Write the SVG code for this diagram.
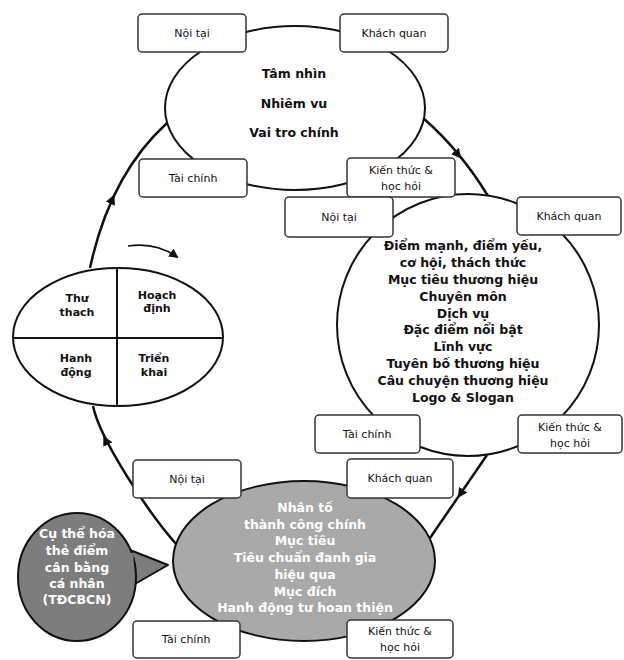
<svg xmlns="http://www.w3.org/2000/svg" width="624" height="660" viewBox="0 0 624 660">
<style>
.bg{fill:#fff}
.shape{fill:#fff;stroke:#111;stroke-width:2}
.box{fill:#fff;stroke:#333;stroke-width:1.5}
.lbl{font-family:"DejaVu Sans",Verdana,sans-serif;font-size:11px;fill:#111;text-anchor:middle}
.q{font-family:"DejaVu Sans",Verdana,sans-serif;font-size:11px;font-weight:bold;fill:#111;text-anchor:middle}
.txt{font-family:"DejaVu Sans",Verdana,sans-serif;font-size:12.5px;font-weight:bold;fill:#111;text-anchor:middle}
.wtxt{font-family:"DejaVu Sans",Verdana,sans-serif;font-size:12.5px;font-weight:bold;fill:#fff;text-anchor:middle}
.conn{fill:none;stroke:#111;stroke-width:2.5}
.thin{fill:none;stroke:#111;stroke-width:1.6}
</style>
<defs>
<marker id="ah" viewBox="0 0 10 10" refX="5" refY="5" markerWidth="4" markerHeight="4" orient="auto" markerUnits="strokeWidth">
<path d="M0,0 L10,5 L0,10 z" fill="#111"/>
</marker>
<marker id="ah2" viewBox="0 0 10 10" refX="8" refY="5" markerWidth="6" markerHeight="6" orient="auto" markerUnits="strokeWidth">
<path d="M0,0 L10,5 L0,10 z" fill="#111"/>
</marker>
</defs>
<rect class="bg" width="624" height="660"/>

<g id="connectors">
<path class="conn" d="M423 118 Q460 150 488 196"/>
<path class="conn" d="M457.5 154 l0.63 0.78" marker-end="url(#ah)"/>
<path class="conn" d="M487 455 L430 538"/>
<path class="conn" d="M461 493 l-0.566 0.824" marker-end="url(#ah)"/>
<path class="conn" d="M177 545 C150 515 100 440 93 406"/>
<path class="conn" d="M106 441 l-0.452 -0.892" marker-end="url(#ah)"/>
<path class="conn" d="M90 268 Q110 175 167 123"/>
<path class="conn" d="M112 200 l0.41 -0.91" marker-end="url(#ah)"/>
<path class="thin" d="M128 246 Q156 242 177 257" marker-end="url(#ah2)"/>
</g>

<g id="vision">
<ellipse class="shape" cx="295" cy="108" rx="130" ry="82"/>
<text class="txt" x="294" y="78">Tâm nhìn</text>
<text class="txt" x="294" y="108">Nhiêm vu</text>
<text class="txt" x="294" y="137">Vai tro chính</text>
</g>

<g id="brand">
<ellipse class="shape" cx="468" cy="325" rx="131" ry="131"/>
<text class="txt" x="463" y="250">Điểm mạnh, điểm yếu,</text>
<text class="txt" x="463" y="267">cơ hội, thách thức</text>
<text class="txt" x="463" y="284">Mục tiêu thương hiệu</text>
<text class="txt" x="463" y="301">Chuyên môn</text>
<text class="txt" x="463" y="318">Dịch vụ</text>
<text class="txt" x="463" y="334">Đặc điểm nổi bật</text>
<text class="txt" x="463" y="351">Lĩnh vực</text>
<text class="txt" x="463" y="368">Tuyên bố thương hiệu</text>
<text class="txt" x="463" y="385">Câu chuyện thương hiệu</text>
<text class="txt" x="463" y="402">Logo &amp; Slogan</text>
</g>

<g id="success">
<ellipse cx="304" cy="561" rx="131" ry="80" fill="#a9a9a9" stroke="#111" stroke-width="2"/>
<text class="wtxt" x="305" y="512">Nhân tố</text>
<text class="wtxt" x="305" y="529">thành công chính</text>
<text class="wtxt" x="305" y="545">Mục tiêu</text>
<text class="wtxt" x="305" y="562">Tiêu chuẩn đanh gia</text>
<text class="wtxt" x="305" y="579">hiệu qua</text>
<text class="wtxt" x="305" y="596">Mục đích</text>
<text class="wtxt" x="305" y="612">Hanh động tư hoan thiện</text>
</g>

<g id="bubble">
<path d="M130 550 L168 565 L128 588 Z" fill="#7d7d7d" stroke="#111" stroke-width="2" stroke-linejoin="round"/>
<ellipse cx="77" cy="577" rx="59" ry="64" fill="#7d7d7d" stroke="#111" stroke-width="2"/>
<path d="M132 553 L131 586" stroke="#7d7d7d" stroke-width="3.5"/>
<text class="wtxt" x="77" y="538">Cụ thể hóa</text>
<text class="wtxt" x="77" y="555">thẻ điểm</text>
<text class="wtxt" x="77" y="572">cân bằng</text>
<text class="wtxt" x="77" y="588">cá nhân</text>
<text class="wtxt" x="77" y="604">(TĐCBCN)</text>
</g>

<g id="cycle">
<ellipse class="shape" cx="118" cy="337" rx="105" ry="69"/>
<line x1="117" y1="268" x2="117" y2="406" stroke="#111" stroke-width="2"/>
<line x1="13" y1="338" x2="223" y2="338" stroke="#111" stroke-width="2"/>
<text class="q" x="77" y="302">Thư</text>
<text class="q" x="77" y="316">thach</text>
<text class="q" x="157" y="299">Hoạch</text>
<text class="q" x="157" y="312">định</text>
<text class="q" x="76" y="362">Hanh</text>
<text class="q" x="76" y="376">động</text>
<text class="q" x="154" y="362">Triển</text>
<text class="q" x="154" y="376">khai</text>
</g>

<g id="box-top-noitai"><rect class="box" x="138" y="14" width="108" height="38" rx="4"/><text class="lbl" x="192" y="37">Nội tại</text></g>
<g id="box-top-khachquan"><rect class="box" x="340" y="14" width="108" height="38" rx="4"/><text class="lbl" x="394" y="37">Khách quan</text></g>
<g id="box-top-taichinh"><rect class="box" x="139" y="159" width="108" height="38" rx="4"/><text class="lbl" x="193" y="182">Tài chính</text></g>
<g id="box-top-kienthuc"><rect class="box" x="347" y="158" width="108" height="39" rx="4"/><text class="lbl" x="401" y="174">Kiến thức &amp;</text><text class="lbl" x="401" y="190">học hỏi</text></g>

<g id="box-mid-noitai"><rect class="box" x="285" y="197" width="108" height="40" rx="4"/><text class="lbl" x="339" y="221">Nội tại</text></g>
<g id="box-mid-khachquan"><rect class="box" x="517" y="197" width="104" height="38" rx="4"/><text class="lbl" x="569" y="220">Khách quan</text></g>
<g id="box-mid-taichinh"><rect class="box" x="315" y="415" width="105" height="38" rx="4"/><text class="lbl" x="367" y="438">Tài chính</text></g>
<g id="box-mid-kienthuc"><rect class="box" x="518" y="415" width="104" height="38" rx="4"/><text class="lbl" x="570" y="431">Kiến thức &amp;</text><text class="lbl" x="570" y="447">học hỏi</text></g>

<g id="box-bot-noitai"><rect class="box" x="133" y="460" width="108" height="38" rx="4"/><text class="lbl" x="187" y="483">Nội tại</text></g>
<g id="box-bot-khachquan"><rect class="box" x="347" y="459" width="106" height="39" rx="4"/><text class="lbl" x="400" y="482">Khách quan</text></g>
<g id="box-bot-taichinh"><rect class="box" x="133" y="621" width="107" height="37" rx="4"/><text class="lbl" x="186" y="643">Tài chính</text></g>
<g id="box-bot-kienthuc"><rect class="box" x="347" y="620" width="106" height="38" rx="4"/><text class="lbl" x="400" y="635">Kiến thức &amp;</text><text class="lbl" x="400" y="651">học hỏi</text></g>
</svg>
